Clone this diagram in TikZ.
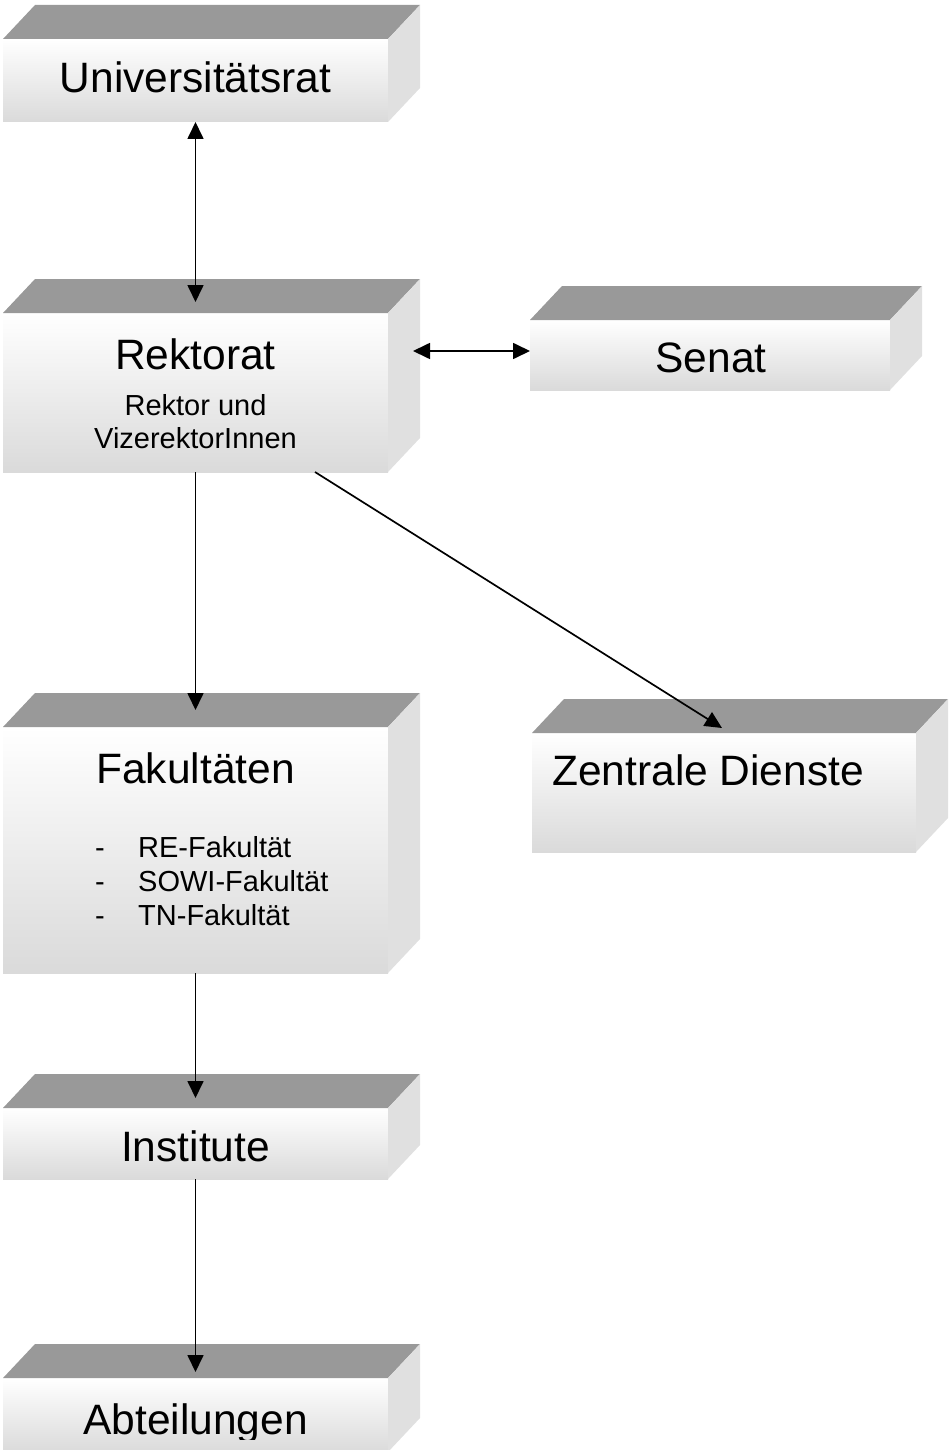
\documentclass[tikz,border=0pt]{standalone}
\usepackage{fontspec}
\setmainfont{Liberation Sans}
\usetikzlibrary{arrows.meta,calc}
\definecolor{topgray}{HTML}{999999}
\definecolor{sidegray}{HTML}{E0E0E0}
\definecolor{frontbot}{HTML}{DADADA}
\tikzset{
  boxfront/.style={draw=none, rectangle, inner sep=0pt, outer sep=0pt, top color=white, bottom color=frontbot, anchor=north west},
  big/.style={font=\fontsize{42.5}{48}\selectfont, inner sep=0pt, anchor=base},
  small/.style={font=\fontsize{29}{34}\selectfont, inner sep=0pt, anchor=base},
  tip/.tip={Triangle[length=17pt,width=16pt]},
  conn/.style={line width=1.7pt, -tip},
  conntwo/.style={line width=1.7pt, tip-tip},
}
\newcommand\boxfaces[1]{%
  \fill[topgray] (#1.north west) -- ++(32,-34) -- ($(#1.north east)+(32,-34)$) -- (#1.north east) -- cycle;
  \fill[sidegray] (#1.north east) -- ++(32,-34) -- ($(#1.south east)+(32,-34)$) -- (#1.south east) -- cycle;
}
\begin{document}
\begin{tikzpicture}[x=1pt,y=-1pt]
\useasboundingbox (0,0) rectangle (949,1450);
% boxes
\node[boxfront, minimum width=385pt, minimum height=83pt] (univ) at (3,39) {};
\node[boxfront, minimum width=385pt, minimum height=159pt] (rek) at (3,313) {};
\node[boxfront, minimum width=360pt, minimum height=70pt] (senat) at (530,320) {};
\node[boxfront, minimum width=385pt, minimum height=246pt] (fak) at (3,727) {};
\node[boxfront, minimum width=384pt, minimum height=119pt] (zd) at (532,733) {};
\node[boxfront, minimum width=385pt, minimum height=71pt] (inst) at (3,1108) {};
\node[boxfront, minimum width=385pt, minimum height=74pt] (abt) at (3,1378) {};
\boxfaces{univ}
\boxfaces{rek}
\boxfaces{senat}
\boxfaces{fak}
\boxfaces{zd}
\boxfaces{inst}
\boxfaces{abt}
% texts
\node[big] (univt) at (195.5,93) {Universitätsrat};
\node[big] (rekt) at (195.5,369) {Rektorat};
\node[small] (rekt1) at (195.5,415) {Rektor und};
\node[small] (rekt2) at (195.5,448) {VizerektorInnen};
\node[big] (senatt) at (711,372) {Senat};
\node[big] (fakt) at (195.5,783) {Fakultäten};
\foreach \y/\t [count=\i] in {857/RE-Fakultät,891/SOWI-Fakultät,925/TN-Fakultät}{
  \node[small, anchor=base] (dash\i) at (100,\y) {-};
  \node[small, anchor=base west] (fakitem\i) at (138,\y) {\t};
}
\node[big, anchor=base west] (zdt) at (552,785) {Zentrale Dienste};
\node[big] (instt) at (195.5,1161) {Institute};
\begin{scope}
  \clip (0,1300) rectangle (949,1439);
  \node[big] (abtt) at (195.5,1434) {Abteilungen};
\end{scope}
% connectors
\coordinate (senatin) at ($(senat.west)+(-117,-4)$);
\coordinate (senatend) at ($(senat.west)+(0,-4)$);
\coordinate (diagstart) at ($(rek.south east)+(-73,0)$);
\coordinate (diagend) at ($(zd.north west)+(190,-5)$);
\draw[conntwo] (univ.south) -- ($(rek.north)+(0,-11)$);
\draw[conntwo] (senatin) -- (senatend);
\draw[conn] (rek.south) -- ($(fak.north)+(0,-17)$);
\draw[conn] (diagstart) -- (diagend);
\draw[conn] (fak.south) -- ($(inst.north)+(0,-10)$);
\draw[conn] (inst.south) -- ($(abt.north)+(0,-6)$);
\end{tikzpicture}
\end{document}
